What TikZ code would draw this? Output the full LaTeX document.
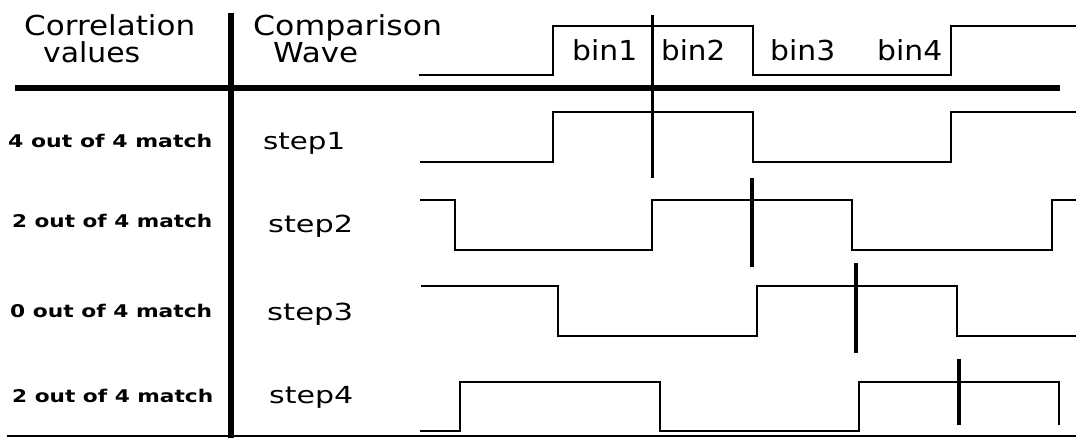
\documentclass[tikz,border=0pt]{standalone}
\usepackage{fontspec}
\setmainfont{DejaVu Sans}
\newcommand\fw[2]{\resizebox{#1}{\height}{#2}}
\tikzset{
  bigtext/.style={anchor=base west, inner sep=0pt, font=\fontsize{27.5}{30}\selectfont},
  steplab/.style={anchor=base west, inner sep=0pt, font=\fontsize{23.5}{26}\selectfont},
  matchlab/.style={anchor=base west, inner sep=0pt, font=\fontsize{17.5}{19}\selectfont\bfseries},
  wave/.style={line width=2.2pt},
  cursorline/.style={line width=4.5pt},
  rulethick/.style={line width=6pt},
}
\begin{document}
\begin{tikzpicture}[x=1pt,y=-1pt]
\useasboundingbox (0,0) rectangle (1076,438);
\fill[white] (0,0) rectangle (1076,438);
% header texts
\node[bigtext] (hcorr) at (24,36) {\fw{171pt}{Correlation}};
\node[bigtext] (hval) at (43,63) {\fw{97pt}{values}};
\node[bigtext] (hcomp) at (253,36) {\fw{189pt}{Comparison}};
\node[bigtext] (hwave) at (273,63) {\fw{85pt}{Wave}};
\node[bigtext] (b1) at (572,61) {\fw{65pt}{bin1}};
\node[bigtext] (b2) at (661,61) {\fw{64pt}{bin2}};
\node[bigtext] (b3) at (770,61) {\fw{65pt}{bin3}};
\node[bigtext] (b4) at (877,61) {\fw{65pt}{bin4}};
% row labels
\node[matchlab] (m1) at (8,148) {\fw{204pt}{4 out of 4 match}};
\node[matchlab] (m2) at (12,228) {\fw{200pt}{2 out of 4 match}};
\node[matchlab] (m3) at (10,317) {\fw{202pt}{0 out of 4 match}};
\node[matchlab] (m4) at (12,402) {\fw{201pt}{2 out of 4 match}};
\node[steplab] (s1) at (263,150) {\fw{82pt}{step1}};
\node[steplab] (s2) at (268,233) {\fw{85pt}{step2}};
\node[steplab] (s3) at (267,320) {\fw{86pt}{step3}};
\node[steplab] (s4) at (269,403) {\fw{84pt}{step4}};
% grid lines
\draw[rulethick] (231,13) -- (231,438);
\draw[rulethick] (15,88) -- (1060,88);
\draw[line width=2.5pt] (7,436) -- (1076,436);
% header wave
\draw[wave] (419,75) -| (553,26) -| (753,75) -| (951,26) -- (1076,26);
\draw[line width=3pt] (652,15) -- (652,178);
% step1
\draw[wave] (420,162) -| (553,112) -| (753,162) -| (951,112) -- (1076,112);
% step2
\draw[wave] (420,200) -| (455,250) -| (652,200) -| (852,250) -| (1052,200) -- (1076,200);
\draw[cursorline] (752,178) -- (752,267);
% step3
\draw[wave] (421,286) -| (558,336) -| (757,286) -| (957,336) -- (1076,336);
\draw[cursorline] (856,263) -- (856,353);
% step4
\draw[wave] (420,431) -| (460,382) -| (660,431) -| (859,382) -| (1059,425);
\draw[cursorline] (959,359) -- (959,425);
\end{tikzpicture}
\end{document}
